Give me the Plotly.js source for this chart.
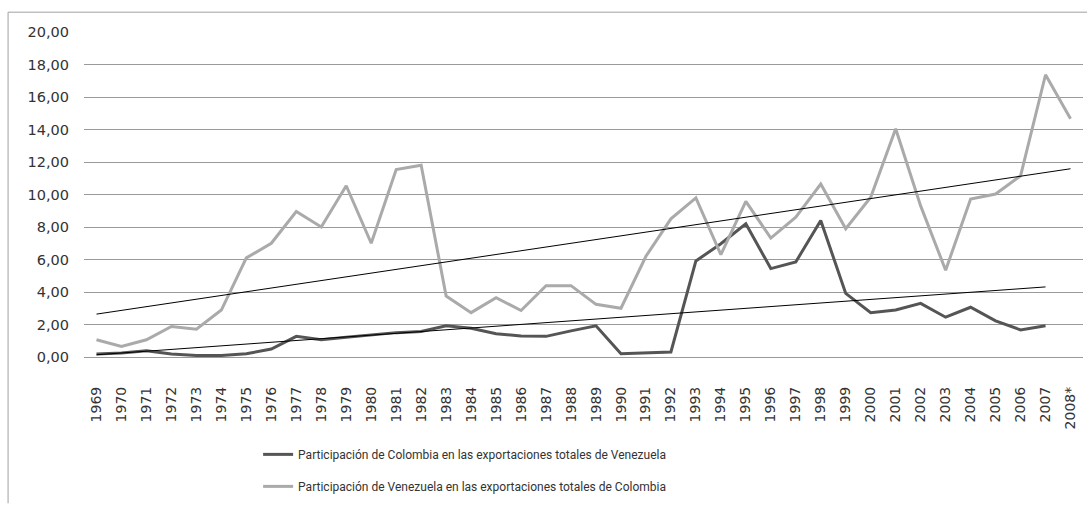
<!DOCTYPE html>
<html>
<head>
<meta charset="utf-8">
<script src="https://cdn.plot.ly/plotly-3.0.1.min.js"></script>
<style>html,body{margin:0;padding:0;background:#fff;}#chart{width:1087px;height:505px;}</style>
</head>
<body>
<div id="chart"></div>
<script>
const years = ["1969","1970","1971","1972","1973","1974","1975","1976","1977","1978","1979","1980","1981","1982","1983","1984","1985","1986","1987","1988","1989","1990","1991","1992","1993","1994","1995","1996","1997","1998","1999","2000","2001","2002","2003","2004","2005","2006","2007","2008*"];
const colombiaEnVenezuela = [0.18,0.25,0.38,0.18,0.10,0.10,0.20,0.49,1.27,1.06,1.22,1.36,1.50,1.57,1.92,1.77,1.43,1.30,1.27,1.61,1.92,0.20,0.25,0.31,5.91,6.97,8.20,5.44,5.85,8.40,3.91,2.73,2.89,3.30,2.45,3.06,2.22,1.67,1.92];
const venezuelaEnColombia = [1.06,0.65,1.06,1.88,1.71,2.89,6.10,7.00,8.95,8.00,10.54,7.00,11.53,11.80,3.75,2.73,3.65,2.86,4.39,4.39,3.24,3.00,6.20,8.50,9.79,6.30,9.58,7.32,8.60,10.64,7.89,9.83,14.05,9.30,5.34,9.72,10.03,11.15,17.37,14.66];
const legendNames = ["Participación de Colombia en las exportaciones totales de Venezuela","Participación de Venezuela en las exportaciones totales de Colombia"];

function linearTrend(vals){
  const n = vals.length;
  let sx=0, sy=0, sxx=0, sxy=0;
  for(let i=0;i<n;i++){ sx+=i; sy+=vals[i]; sxx+=i*i; sxy+=i*vals[i]; }
  const b = (n*sxy - sx*sy)/(n*sxx - sx*sx);
  const a = (sy - b*sx)/n;
  return vals.map((v,i)=>a+b*i);
}

const traces = [
  {x: years.slice(0,colombiaEnVenezuela.length), y: colombiaEnVenezuela, type:'scatter', mode:'lines', name: legendNames[0], legendgroup:'a', line:{color:'#555555', width:3}},
  {x: years, y: venezuelaEnColombia, type:'scatter', mode:'lines', name: legendNames[1], legendgroup:'b', line:{color:'#aaaaaa', width:3}},
  {x: years.slice(0,colombiaEnVenezuela.length), y: linearTrend(colombiaEnVenezuela), type:'scatter', mode:'lines', showlegend:false, line:{color:'#000000', width:1}, hoverinfo:'skip'},
  {x: years, y: linearTrend(venezuelaEnColombia), type:'scatter', mode:'lines', showlegend:false, line:{color:'#000000', width:1}, hoverinfo:'skip'}
];

const layout = {
  width:1087, height:505,
  margin:{l:84, r:4, t:32, b:146},
  paper_bgcolor:'#ffffff', plot_bgcolor:'#ffffff',
  separators:',.',
  showlegend:true,
  legend:{orientation:'v', traceorder:'grouped', tracegroupgap:13, x:0.381, xanchor:'center', y:-0.255, yanchor:'top', font:{family:'Roboto, sans-serif', size:12, color:'#333'}, itemwidth:30},
  xaxis:{type:'category', tickangle:-90, tickfont:{family:'DejaVu Sans, sans-serif', size:14, color:'#333'}, showgrid:false, showline:false, zeroline:false, ticks:'', ticklabelstandoff:26, range:[-0.5,39.5], fixedrange:true},
  yaxis:{range:[0,20], dtick:2, tickformat:'.2f', tickfont:{family:'DejaVu Sans, sans-serif', size:14.5, color:'#333'}, showgrid:true, gridcolor:'#9a9a9a', gridwidth:1, zeroline:true, zerolinecolor:'#9a9a9a', zerolinewidth:1, showline:false, ticks:'', ticklabelstandoff:14, fixedrange:true},
  shapes:[
    {type:'line', xref:'paper', yref:'paper', x0:-0.076, x1:1.01, y0:1.061, y1:1.061, line:{color:'#a0a0a0', width:1}},
    {type:'line', xref:'paper', yref:'paper', x0:-0.076, x1:-0.076, y0:1.061, y1:-0.45, line:{color:'#a0a0a0', width:1}}
  ]
};

Plotly.newPlot('chart', traces, layout, {displayModeBar:false, staticPlot:true});
</script>
</body>
</html>
